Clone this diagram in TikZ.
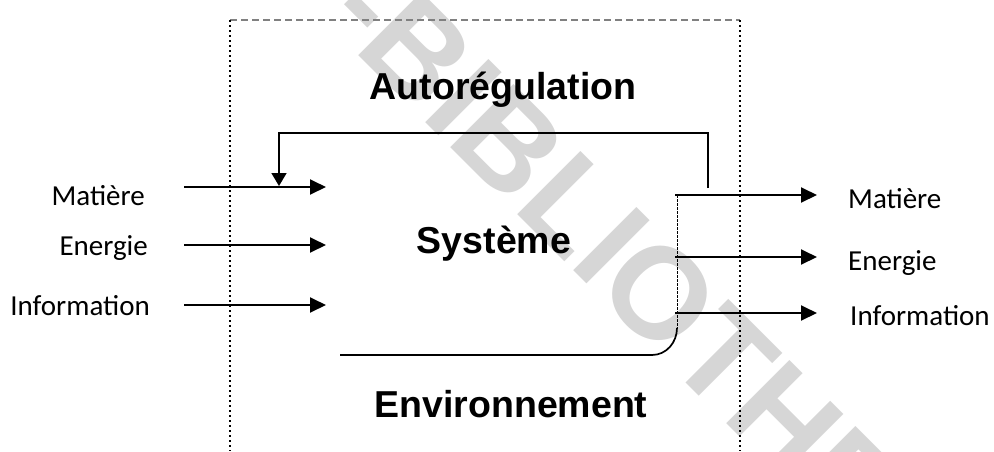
\documentclass[tikz,border=0pt]{standalone}
\usepackage{fontspec}
\setmainfont{Liberation Sans}
\newfontfamily\calibfont{Carlito}
\usetikzlibrary{arrows.meta}
\definecolor{wmgray}{HTML}{D6D6D6}
\begin{document}
\begin{tikzpicture}[x=1pt,y=-1pt,
  big/.style={font=\fontsize{37.5}{40}\selectfont\bfseries, inner sep=0pt, anchor=base},
  lbl/.style={font=\calibfont\fontsize{29}{32}\selectfont, inner sep=0pt},
  flow/.style={line width=1.9pt, -{Triangle[length=16pt,width=15pt]}},
  fback/.style={line width=1.6pt, -{Triangle[length=13pt,width=15pt]}},
  envside/.style={line width=1.4pt, dash pattern=on 1.6pt off 3.4pt},
  envtop/.style={line width=1.1pt, gray, dash pattern=on 7pt off 4pt},
  wm/.style={font=\fontsize{130}{130}\selectfont\bfseries, text=wmgray, inner sep=0pt, rotate=-45, anchor=base west}
]
\useasboundingbox (0,0) rectangle (994,451);
% watermark
\node[wm] (wmark) at (322,19) {-BIBLIOTHEQUE};
% environment frame
\coordinate (tl) at (230,20);
\coordinate (tr) at (740,20);
\coordinate (bl) at (230,451);
\coordinate (br) at (740,451);
\draw[envtop] (tl) -- (tr);
\draw[envside] (tl) -- (bl);
\draw[envside] (tr) -- (br);
% system outline
\coordinate (sysR) at (677,195);
\coordinate (sysC) at (677,328);
\coordinate (sysB) at (652,355);
\coordinate (sysL) at (340,355);
\draw[line width=0.7pt, dash pattern=on 3pt off 1pt] (sysR) -- (sysC);
\draw[line width=1.7pt] (sysC) to[out=-90,in=0] (sysB) -- (sysL);
% texts
\node[big] (auto) at (503,99) {Autorégulation};
\node[big] (sys) at (494,253) {Système};
\node[big] (env) at (511,417) {Environnement};
% left inputs
\node[lbl, anchor=base east] (inM) at (145,205) {Matière};
\node[lbl, anchor=base east] (inE) at (148,255) {Energie};
\node[lbl, anchor=base east] (inI) at (150,315) {Information};
\coordinate (aMs) at (184,187); \coordinate (aMe) at (326,187);
\coordinate (aEs) at (184,245); \coordinate (aEe) at (326,245);
\coordinate (aIs) at (184,305); \coordinate (aIe) at (326,305);
\draw[flow] (aMs) -- (aMe);
\draw[flow] (aEs) -- (aEe);
\draw[flow] (aIs) -- (aIe);
% right outputs
\node[lbl, anchor=base west] (outM) at (848,208) {Matière};
\node[lbl, anchor=base west] (outE) at (848,270) {Energie};
\node[lbl, anchor=base west] (outI) at (850,325) {Information};
\coordinate (bMs) at (675,195); \coordinate (bMe) at (817,195);
\coordinate (bEs) at (675,257); \coordinate (bEe) at (817,257);
\coordinate (bIs) at (675,313); \coordinate (bIe) at (817,313);
\draw[flow] (bMs) -- (bMe);
\draw[flow] (bEs) -- (bEe);
\draw[flow] (bIs) -- (bIe);
% feedback loop
\coordinate (fbS) at (708,188);
\coordinate (fbT) at (279,186);
\draw[fback] (fbS) |- (fbT |- 0,133) -- (fbT);
\end{tikzpicture}
\end{document}
